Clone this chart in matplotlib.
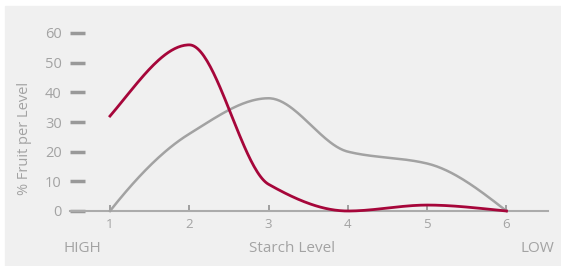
import numpy as np
import matplotlib.pyplot as plt
from matplotlib.patches import Rectangle

# data
levels = [1, 2, 3, 4, 5, 6]
red_vals = [32, 56, 9, 0, 2, 0]
gray_vals = [0, 26, 38, 20, 16, 0]
y_ticks = [0, 10, 20, 30, 40, 50, 60]

txt = '#a3a3a3'
red = '#a6063a'
gry = '#a2a2a2'
plt.rcParams['font.family'] = ['Open Sans', 'DejaVu Sans']


def smooth(x, y, n=50):
    # monotone cubic (pchip style) through the points
    x = np.asarray(x, float)
    y = np.asarray(y, float)
    h = np.diff(x)
    d = np.diff(y) / h
    m = np.zeros_like(y)
    for k in range(1, len(y) - 1):
        if d[k - 1] * d[k] > 0:
            w1 = 2 * h[k] + h[k - 1]
            w2 = h[k] + 2 * h[k - 1]
            m[k] = (w1 + w2) / (w1 / d[k - 1] + w2 / d[k])
    m[0] = d[0] * 1.3
    m[-1] = d[-1] * 1.3
    xs, ys = [], []
    for k in range(len(h)):
        t = np.linspace(0, 1, n)
        h00 = 2 * t ** 3 - 3 * t ** 2 + 1
        h10 = t ** 3 - 2 * t ** 2 + t
        h01 = -2 * t ** 3 + 3 * t ** 2
        h11 = t ** 3 - t ** 2
        xs.extend(x[k] + t * h[k])
        ys.extend(h00 * y[k] + h10 * h[k] * m[k] + h01 * y[k + 1] + h11 * h[k] * m[k + 1])
    return np.array(xs), np.array(ys)


W, H = 561, 266
fig = plt.figure(figsize=(W / 100, H / 100), dpi=100)
fig.patch.set_facecolor('white')
fig.patches.append(Rectangle((5 / W, 0), 1 - 5 / W, 1 - 6 / H,
                             transform=fig.transFigure, color='#f0f0f0', zorder=-1))

ax = fig.add_axes([70 / W, 1 - 211 / H, (548 - 70) / W, (211 - 33) / H])
ax.set_zorder(2)
ax.patch.set_alpha(0)

gx, gy = smooth(levels, gray_vals)
rx, ry = smooth(levels, red_vals)
ax.plot(gx, gy, color=gry, lw=1.8, clip_on=False, zorder=3)
ax.plot(rx, ry, color=red, lw=2.0, clip_on=False, zorder=4)

ax.set_xlim(1 - 40 / 79.3, 1 + 438 / 79.3)
ax.set_ylim(0, 60)

for s in ['top', 'right', 'left']:
    ax.spines[s].set_visible(False)
ax.spines['bottom'].set_color('#ababab')
ax.spines['bottom'].set_linewidth(1.5)

ax.set_xticks(levels)
ax.set_yticks(y_ticks)
ax.tick_params(axis='x', direction='in', length=4, width=1.3, color='#999999',
               labelsize=9.5, labelcolor=txt, pad=5)
ax.tick_params(axis='y', direction='in', length=11, width=2.5, color='#999999',
               labelsize=10.5, labelcolor=txt, pad=6)

fig.text(25 / W, 1 - 138 / H, '% Fruit per Level', color=txt, fontsize=10.5,
         rotation=90, ha='center', va='center')

fig.text(82 / W, 1 - 248 / H, 'HIGH', color=txt, fontsize=11, ha='center', va='center')
fig.text(292 / W, 1 - 248 / H, 'Starch Level', color=txt, fontsize=11, ha='center', va='center')
fig.text(537 / W, 1 - 248 / H, 'LOW', color=txt, fontsize=11, ha='center', va='center')

fig.savefig('out.png', dpi=100)
